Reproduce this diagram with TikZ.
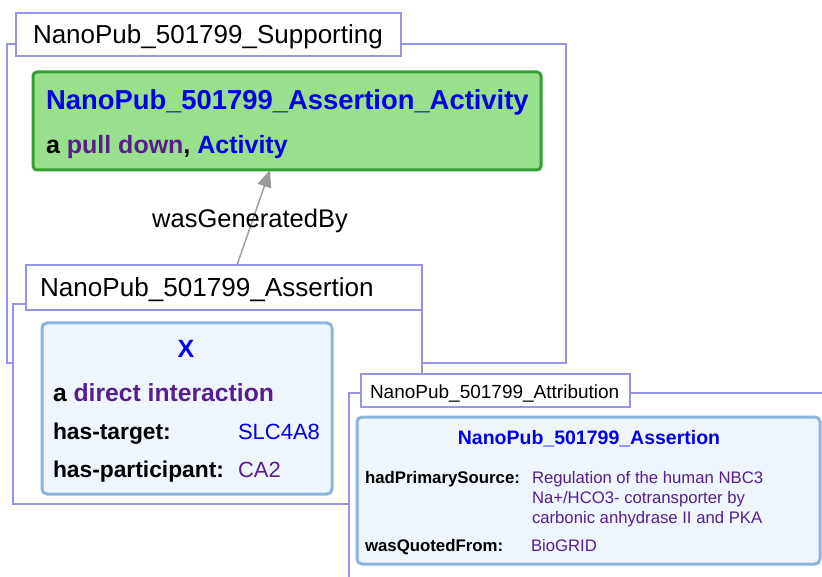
\documentclass[tikz,border=0pt]{standalone}
\usepackage{fontspec}
\setmainfont{Liberation Sans}
\usetikzlibrary{arrows.meta}

\definecolor{grpline}{RGB}{150,150,232}
\definecolor{linkblue}{RGB}{0,0,230}
\definecolor{linkpurple}{RGB}{88,30,140}
\definecolor{actfill}{RGB}{152,224,140}
\definecolor{actline}{RGB}{52,160,52}
\definecolor{entfill}{RGB}{238,245,253}
\definecolor{entline}{RGB}{140,180,222}
\definecolor{edgegray}{RGB}{155,155,155}

\newcommand{\fs}[1]{\fontsize{#1}{#1}\selectfont}

\begin{document}
\begin{tikzpicture}[x=1pt,y=-1pt,
  grpframe/.style={draw=grpline,line width=1.2pt,fill=white,anchor=north west,
    inner sep=0pt,outer sep=0pt},
  grplabel/.style={grpframe},
  actbox/.style={draw=actline,line width=3pt,fill=actfill,rounded corners=4pt,
    anchor=north west,inner sep=0pt,outer sep=0pt},
  entbox/.style={draw=entline,line width=3pt,fill=entfill,rounded corners=5pt,
    anchor=north west,inner sep=0pt,outer sep=0pt},
  txt/.style={anchor=base west,inner sep=0pt,outer sep=0pt},
  ctxt/.style={anchor=base,inner sep=0pt,outer sep=0pt},
  edgeline/.style={draw=edgegray,line width=1.4pt,
    -{Triangle[length=17pt,width=14pt,fill=edgegray]}},
]
\useasboundingbox (0,0) rectangle (822,577);
\clip (0,0) rectangle (822,577);

% ---- Supporting graph ----
\node[grpframe,minimum width=559pt,minimum height=319pt] (supframe) at (7,44) {};
\node[grplabel,minimum width=385pt,minimum height=43pt] (suplabel) at (16,13) {};
\node[txt] (suptext) at (33,44) {\fs{26}NanoPub\_501799\_Supporting};

% activity node
\node[actbox,minimum width=508pt,minimum height=98pt] (activity) at (33,72) {};
\node[txt] (acttitle) at (46,110)
  {\fs{27.4}\bfseries\color{linkblue}NanoPub\_501799\_Assertion\_Activity};
\node[txt] (acttype) at (46,154)
  {\fs{25}\bfseries a {\color{linkpurple}pull down}, {\color{linkblue}Activity}};

% ---- Assertion graph ----
\node[grpframe,minimum width=409pt,minimum height=200pt] (assframe) at (13,304) {};
\node[grplabel,minimum width=396pt,minimum height=45pt] (asslabel) at (26,265) {};
\node[txt] (asstext) at (40,297) {\fs{26.1}NanoPub\_501799\_Assertion};

% wasGeneratedBy edge
\draw[edgeline] ([xshift=211pt]asslabel.north west)
  -- node[pos=0.394,ctxt] (edgelabel) {\fs{25.5}wasGeneratedBy}
  ([xshift=237pt]activity.south west);

% entity X
\node[entbox,minimum width=290pt,minimum height=171pt] (xbox) at (42,323) {};
\node[ctxt] (xtitle) at (186,357) {\fs{25}\bfseries\color{linkblue}X};
\node[txt] (xtype) at (53,401)
  {\fs{24.7}\bfseries a {\color{linkpurple}direct interaction}};
\node[txt] (tgtkey) at (53,439) {\fs{22.8}\bfseries has-target:};
\node[txt] (tgtval) at (238,439) {\fs{22}\color{linkblue}SLC4A8};
\node[txt] (parkey) at (53,477) {\fs{22.8}\bfseries has-participant:};
\node[txt] (parval) at (238,477) {\fs{22}\color{linkpurple}CA2};

% ---- Attribution graph ----
\node[grpframe,minimum width=475pt,minimum height=186pt] (attframe) at (349,393) {};
\node[grplabel,minimum width=269pt,minimum height=33pt] (attlabel) at (361,374) {};
\node[txt] (atttext) at (370,398) {\fs{19}NanoPub\_501799\_Attribution};

\node[entbox,minimum width=463pt,minimum height=147pt] (attbox) at (357,417) {};
\node[ctxt] (atttitle) at (589,444)
  {\fs{19.5}\bfseries\color{linkblue}NanoPub\_501799\_Assertion};
\node[txt] (srckey) at (365,483) {\fs{16.8}\bfseries hadPrimarySource:};
\node[txt] (src1) at (532,483) {\fs{16.7}\color{linkpurple}Regulation of the human NBC3};
\node[txt] (src2) at (532,503) {\fs{16.7}\color{linkpurple}Na+/HCO3- cotransporter by};
\node[txt] (src3) at (532,523) {\fs{16.7}\color{linkpurple}carbonic anhydrase II and PKA};
\node[txt] (quokey) at (365,551) {\fs{16.8}\bfseries wasQuotedFrom:};
\node[txt] (quoval) at (531,551) {\fs{16.7}\color{linkpurple}BioGRID};
\end{tikzpicture}
\end{document}
